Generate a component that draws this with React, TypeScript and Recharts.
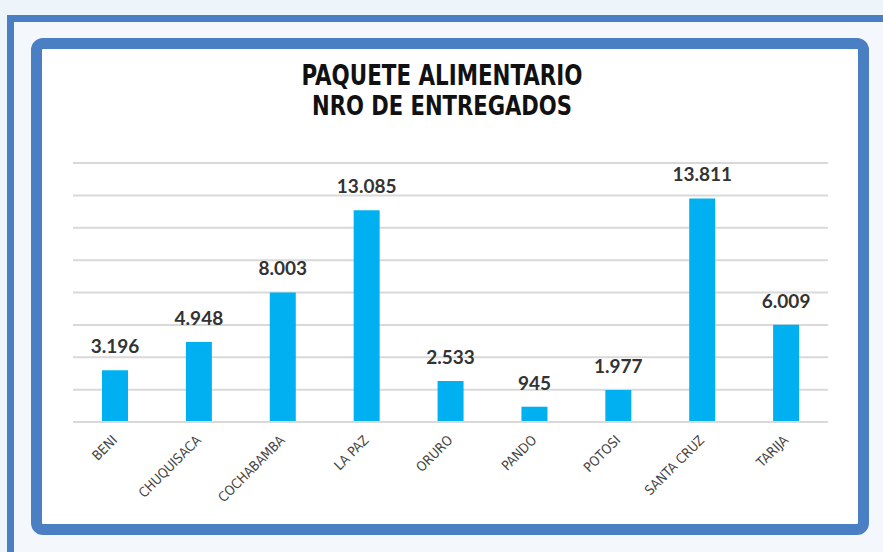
import React from "react";
import {
  BarChart,
  Bar,
  XAxis,
  YAxis,
  CartesianGrid,
  LabelList,
} from "recharts";

const departamentos = [
  "BENI",
  "CHUQUISACA",
  "COCHABAMBA",
  "LA PAZ",
  "ORURO",
  "PANDO",
  "POTOSI",
  "SANTA CRUZ",
  "TARIJA",
];
const entregados = [3196, 4948, 8003, 13085, 2533, 945, 1977, 13811, 6009];
const yTicks = [0, 2000, 4000, 6000, 8000, 10000, 12000, 14000, 16000];
const titleLines = ["PAQUETE ALIMENTARIO", "NRO DE ENTREGADOS"];

const data = departamentos.map((name, i) => ({ name, value: entregados[i] }));

const narrow =
  "'Liberation Sans Narrow', 'DejaVu Sans Condensed', 'Arial Narrow', sans-serif";

// 13085 -> "13.085"
const fmt = (v: number) =>
  String(v).replace(/\B(?=(\d{3})+(?!\d))/g, ".");

const AngledTick = (props: any) => {
  const { x, y, payload } = props;
  return (
    <g transform={`translate(${x + 3},${y + 11})`}>
      <text
        textAnchor="end"
        transform="rotate(-45)"
        fontFamily={narrow}
        fontSize={13.5}
        fill="#454545"
      >
        {payload.value}
      </text>
    </g>
  );
};

const App = () => {
  return (
    <div
      style={{
        position: "absolute",
        left: 0,
        top: 0,
        width: 883,
        height: 552,
        overflow: "hidden",
        background: "#edf4fa",
      }}
    >
      {/* outer frame, cut off at right and bottom */}
      <div
        style={{
          position: "absolute",
          left: 7,
          top: 15,
          width: 890,
          height: 560,
          borderTop: "7px solid #4a7fc3",
          borderLeft: "7px solid #4a7fc3",
          background: "#f4f8fc",
        }}
      />
      {/* inner rounded panel */}
      <div
        style={{
          position: "absolute",
          left: 31,
          top: 38,
          width: 816,
          height: 475,
          border: "11px solid #4a7fc3",
          borderRadius: 12,
          background: "#ffffff",
        }}
      />
      <svg
        width={883}
        height={140}
        style={{ position: "absolute", left: 0, top: 0 }}
      >
        <text
          x={442}
          y={85}
          textAnchor="middle"
          fontFamily={narrow}
          fontWeight="bold"
          fontSize={28}
          fill="#111"
          textLength={281}
          lengthAdjust="spacingAndGlyphs"
        >
          {titleLines[0]}
        </text>
        <text
          x={442}
          y={115}
          textAnchor="middle"
          fontFamily={narrow}
          fontWeight="bold"
          fontSize={26}
          fill="#111"
          textLength={260}
          lengthAdjust="spacingAndGlyphs"
        >
          {titleLines[1]}
        </text>
      </svg>
      <div style={{ position: "absolute", left: 0, top: 0 }}>
        <BarChart
          width={883}
          height={552}
          data={data}
          margin={{ top: 163, right: 55, left: 73, bottom: 50 }}
        >
          <CartesianGrid
            vertical={false}
            stroke="#d9d9d9"
            strokeWidth={2}
          />
          <XAxis
            dataKey="name"
            height={80}
            interval={0}
            tickLine={false}
            axisLine={{ stroke: "#d9d9d9", strokeWidth: 2 }}
            tick={<AngledTick />}
          />
          <YAxis hide width={0} domain={[0, 16000]} ticks={yTicks} />
          <Bar
            dataKey="value"
            fill="#00b0f0"
            barSize={26}
            isAnimationActive={false}
          >
            <LabelList
              dataKey="value"
              position="top"
              offset={17}
              formatter={(v: number) => fmt(v)}
              fontFamily="Lato, 'Open Sans', sans-serif"
              fontWeight="bold"
              fontSize={19}
              fill="#333"
            />
          </Bar>
        </BarChart>
      </div>
    </div>
  );
};

export default App;
